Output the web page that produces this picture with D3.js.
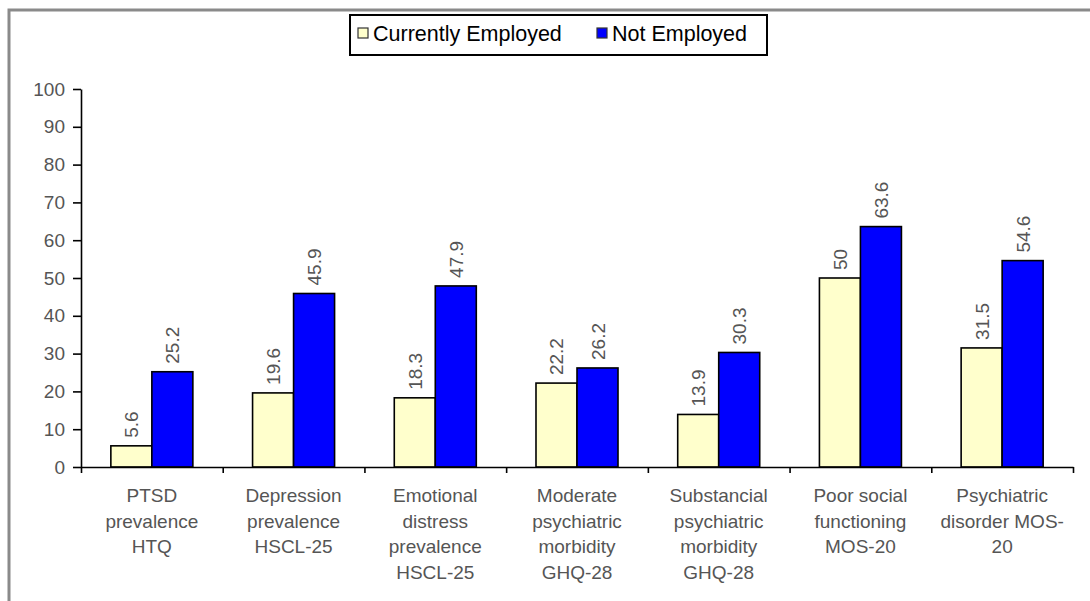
<!DOCTYPE html>
<html>
<head>
<meta charset="utf-8">
<script src="https://cdn.jsdelivr.net/npm/d3@7"></script>
<style>
    body { margin: 0; background: #fff; }
    svg { display: block; }
</style>
</head>
<body>
<svg id="employment_chart" width="1090" height="601"></svg>
<script>
// categories, one line of the label per entry
const categories = [
    ["PTSD", "prevalence", "HTQ"],
    ["Depression", "prevalence", "HSCL-25"],
    ["Emotional", "distress", "prevalence", "HSCL-25"],
    ["Moderate", "psychiatric", "morbidity", "GHQ-28"],
    ["Substancial", "psychiatric", "morbidity", "GHQ-28"],
    ["Poor social", "functioning", "MOS-20"],
    ["Psychiatric", "disorder MOS-", "20"]
]
const seriesNames = ["Currently Employed", "Not Employed"]
const employedValues = [5.6, 19.6, 18.3, 22.2, 13.9, 50, 31.5]
const notEmployedValues = [25.2, 45.9, 47.9, 26.2, 30.3, 63.6, 54.6]
const yTicks = [0, 10, 20, 30, 40, 50, 60, 70, 80, 90, 100]

const seriesColors = ["#ffffcc", "#0000ff"]
const margins = { top: 89, bottom: 134, left: 81, right: 17 }
const FONT = "'Liberation Sans', Arial, sans-serif"

const svg = d3.select("#employment_chart")
const width = 1090 - margins.left - margins.right
const height = 601 - margins.top - margins.bottom

// outer frame, runs off the right and bottom of the picture
svg.append("rect")
    .attr("x", 9)
    .attr("y", 10)
    .attr("width", 1200)
    .attr("height", 800)
    .attr("fill", "none")
    .attr("stroke", "#8a8a8a")
    .attr("stroke-width", 3)

const keys = categories.map(c => c.join(" "))
const xRange = d3.scaleBand()
    .domain(keys)
    .range([margins.left, margins.left + width])
    .padding(0)

const xInner = d3.scaleBand()
    .domain(seriesNames)
    .range([0, xRange.bandwidth()])
    .paddingInner(0)
    .paddingOuter(0.728)

const yRange = d3.scaleLinear()
    .domain([0, 100])
    .range([margins.top + height, margins.top])

const rows = keys.map((k, i) => ({ key: k, values: [employedValues[i], notEmployedValues[i]] }))

// bars
const groups = svg.selectAll(".group")
    .data(rows)
    .enter()
    .append("g")
    .attr("class", "group")
    .attr("transform", d => "translate(" + xRange(d.key) + ",0)")

groups.selectAll("rect")
    .data(d => d.values.map((v, j) => ({ name: seriesNames[j], value: v, index: j })))
    .enter()
    .append("rect")
    .attr("x", d => xInner(d.name))
    .attr("y", d => yRange(d.value))
    .attr("width", xInner.bandwidth())
    .attr("height", d => yRange(0) - yRange(d.value))
    .attr("fill", d => seriesColors[d.index])
    .attr("stroke", "#000")
    .attr("stroke-width", 1.6)

// value labels, turned to read upwards
groups.selectAll(".value_label")
    .data(d => d.values.map((v, j) => ({ name: seriesNames[j], value: v })))
    .enter()
    .append("text")
    .attr("class", "value_label")
    .attr("transform", d => "translate(" + (xInner(d.name) + xInner.bandwidth() / 2 + 7) + "," + (yRange(d.value) - 8) + ") rotate(-90)")
    .attr("font-family", FONT)
    .attr("font-size", 19)
    .attr("fill", "#555")
    .text(d => d.value)

// y axis
const yAxis = svg.append("g")
    .attr("transform", "translate(" + margins.left + ",0)")
    .call(d3.axisLeft(yRange)
        .tickValues(yTicks)
        .tickSize(8)
        .tickSizeOuter(0)
        .tickPadding(8))
yAxis.select(".domain").attr("stroke", "#000").attr("stroke-width", 1.6)
yAxis.selectAll(".tick line").attr("stroke", "#000").attr("stroke-width", 1.6)
yAxis.selectAll("text")
    .attr("font-family", FONT)
    .attr("font-size", 19)
    .attr("fill", "#555")

// x axis, ticks sit between categories
const xBounds = d3.scaleLinear()
    .domain([0, keys.length])
    .range([margins.left, margins.left + width])
const xAxis = svg.append("g")
    .attr("transform", "translate(0," + (margins.top + height) + ")")
    .call(d3.axisBottom(xBounds)
        .ticks(keys.length)
        .tickFormat("")
        .tickSize(6)
        .tickSizeOuter(0))
xAxis.select(".domain").attr("stroke", "#000").attr("stroke-width", 1.6)
xAxis.selectAll(".tick line").attr("stroke", "#000").attr("stroke-width", 1.6)

// category labels
const labels = svg.selectAll(".cat_label")
    .data(categories)
    .enter()
    .append("text")
    .attr("class", "cat_label")
    .attr("text-anchor", "middle")
    .attr("font-family", FONT)
    .attr("font-size", 19)
    .attr("fill", "#555")

labels.selectAll("tspan")
    .data((d, i) => d.map(line => ({ line: line, key: keys[i] })))
    .enter()
    .append("tspan")
    .attr("x", d => xRange(d.key) + xRange.bandwidth() / 2)
    .attr("y", (d, j) => margins.top + height + 35 + j * 25.7)
    .text(d => d.line)

// legend
const legend = svg.append("g")
legend.append("rect")
    .attr("x", 350)
    .attr("y", 15)
    .attr("width", 417)
    .attr("height", 40)
    .attr("fill", "#fff")
    .attr("stroke", "#000")
    .attr("stroke-width", 2)

const legendX = [358, 597]
seriesNames.forEach((name, i) => {
    legend.append("rect")
        .attr("x", legendX[i])
        .attr("y", 28)
        .attr("width", 10)
        .attr("height", 10)
        .attr("fill", seriesColors[i])
        .attr("stroke", "#333")
        .attr("stroke-width", 1.2)
    legend.append("text")
        .attr("x", legendX[i] + 15)
        .attr("y", 40.5)
        .attr("font-family", FONT)
        .attr("font-size", 21.5)
        .attr("fill", "#000")
        .text(name)
})
</script>
</body>
</html>
